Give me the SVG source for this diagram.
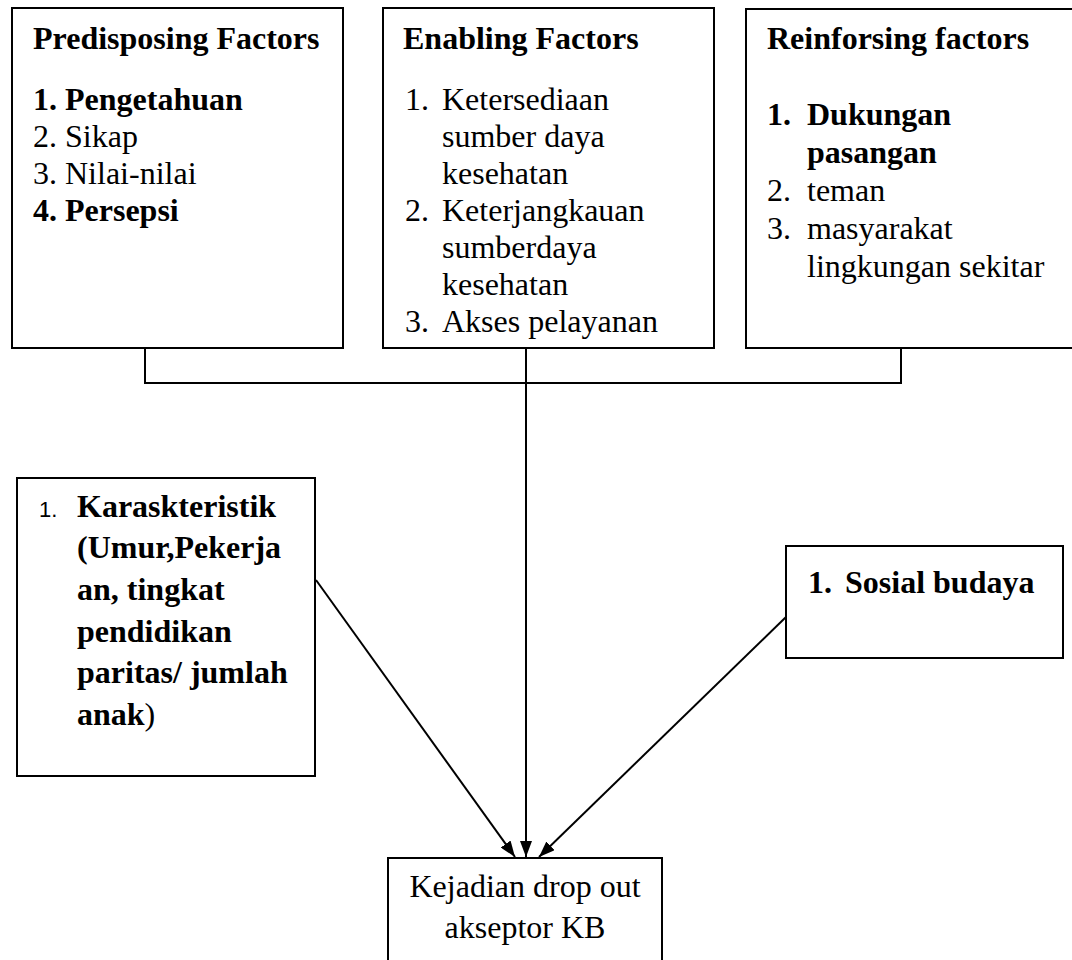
<svg xmlns="http://www.w3.org/2000/svg" width="1072" height="960" viewBox="0 0 1072 960">
<style>
.box{fill:#fff;stroke:#000;stroke-width:2}
.t{font-family:"Liberation Serif","Times New Roman",serif;font-size:32px;fill:#000}
.b{font-weight:bold}
.n{font-family:"Liberation Sans",Arial,sans-serif;font-size:22px;fill:#000}
.ln{fill:none;stroke:#000;stroke-width:2}
</style>
<defs>
<marker id="ah" viewBox="0 0 16 12" refX="16" refY="6" markerWidth="16" markerHeight="12" markerUnits="userSpaceOnUse" orient="auto">
<path d="M0,0 L16,6 L0,12 z" fill="#000"/>
</marker>
</defs>
<rect width="1072" height="960" fill="#fff"/>
<g id="connectors">
<polyline class="ln" points="145,348 145,383 901,383 901,348"/>
<line class="ln" x1="526" y1="348" x2="526" y2="857" marker-end="url(#ah)"/>
<line class="ln" x1="316" y1="580" x2="515" y2="857" marker-end="url(#ah)"/>
<line class="ln" x1="786" y1="617" x2="539" y2="857" marker-end="url(#ah)"/>
</g>
<g id="predisposing">
<rect class="box" x="12" y="8" width="331" height="340"/>
<text class="t b" x="33" y="49">Predisposing Factors</text>
<text class="t b" x="33" y="110">1. Pengetahuan</text>
<text class="t" x="33" y="147">2. Sikap</text>
<text class="t" x="33" y="184">3. Nilai-nilai</text>
<text class="t b" x="33" y="221">4. Persepsi</text>
</g>
<g id="enabling">
<rect class="box" x="383" y="8" width="331" height="340"/>
<text class="t b" x="403" y="49">Enabling Factors</text>
<text class="t" x="405" y="110">1.</text>
<text class="t" x="442" y="110">Ketersediaan</text>
<text class="t" x="442" y="147">sumber daya</text>
<text class="t" x="442" y="184">kesehatan</text>
<text class="t" x="405" y="221">2.</text>
<text class="t" x="442" y="221">Keterjangkauan</text>
<text class="t" x="442" y="258">sumberdaya</text>
<text class="t" x="442" y="295">kesehatan</text>
<text class="t" x="405" y="332">3.</text>
<text class="t" x="442" y="332">Akses pelayanan</text>
</g>
<g id="reinforsing">
<rect class="box" x="746" y="9" width="340" height="339"/>
<text class="t b" x="767" y="49">Reinforsing factors</text>
<text class="t b" x="767" y="125">1.</text>
<text class="t b" x="807" y="125">Dukungan</text>
<text class="t b" x="807" y="163">pasangan</text>
<text class="t" x="767" y="201">2.</text>
<text class="t" x="807" y="201">teman</text>
<text class="t" x="767" y="239">3.</text>
<text class="t" x="807" y="239">masyarakat</text>
<text class="t" x="807" y="277">lingkungan sekitar</text>
</g>
<g id="karakteristik">
<rect class="box" x="17" y="478" width="298" height="298"/>
<text class="n" x="39" y="517">1.</text>
<text class="t b" x="77" y="517">Karaskteristik</text>
<text class="t b" x="77" y="558">(Umur,Pekerja</text>
<text class="t b" x="77" y="600">an, tingkat</text>
<text class="t b" x="77" y="642">pendidikan</text>
<text class="t b" x="77" y="683">paritas/ jumlah</text>
<text class="t" x="77" y="725"><tspan class="b">anak</tspan>)</text>
</g>
<g id="sosial">
<rect class="box" x="786" y="546" width="277" height="112"/>
<text class="t b" x="808" y="593">1.</text>
<text class="t b" x="845" y="593">Sosial budaya</text>
</g>
<g id="kejadian">
<rect class="box" x="388" y="858" width="274" height="120"/>
<text class="t" x="525" y="897" text-anchor="middle">Kejadian drop out</text>
<text class="t" x="525" y="938" text-anchor="middle">akseptor KB</text>
</g>
</svg>
